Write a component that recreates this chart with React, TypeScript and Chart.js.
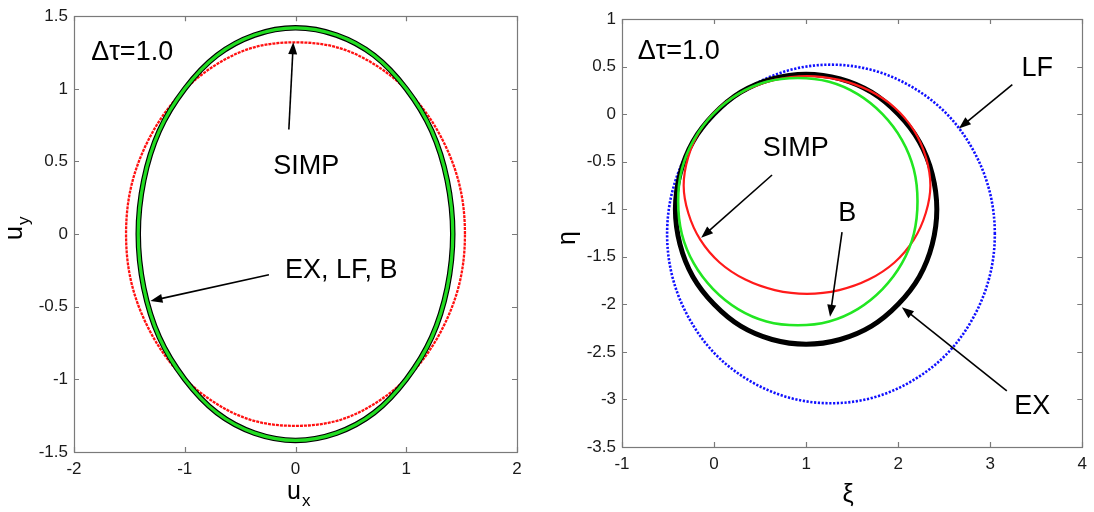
import React, { useEffect, useRef } from "react";
import { Chart, registerables } from "chart.js";

Chart.register(...registerables);

type P = [number, number];

// ---------- tick values ----------
const leftXTicks = [-2, -1, 0, 1, 2];
const leftYTicks = [-1.5, -1, -0.5, 0, 0.5, 1, 1.5];
const rightXTicks = [-1, 0, 1, 2, 3, 4];
const rightYTicks = [-3.5, -3, -2.5, -2, -1.5, -1, -0.5, 0, 0.5, 1];

// ---------- left panel (u_x, u_y) : closed curves ----------
const leftEX: P[] = [
  [1.42, 0], [1.37, 0.37], [1.23, 0.71], [1.0, 1.0], [0.71, 1.23], [0.37, 1.37], [0, 1.42],
  [-0.37, 1.37], [-0.71, 1.23], [-1.0, 1.0], [-1.23, 0.71], [-1.37, 0.37], [-1.42, 0],
  [-1.37, -0.37], [-1.23, -0.71], [-1.0, -1.0], [-0.71, -1.23], [-0.37, -1.37], [0, -1.42],
  [0.37, -1.37], [0.71, -1.23], [1.0, -1.0], [1.23, -0.71], [1.37, -0.37],
];
const leftB: P[] = [
  [1.42, 0], [1.37, 0.37], [1.23, 0.71], [1.0, 1.0], [0.71, 1.23], [0.37, 1.37], [0, 1.42],
  [-0.37, 1.37], [-0.71, 1.23], [-1.0, 1.0], [-1.23, 0.71], [-1.37, 0.37], [-1.42, 0],
  [-1.37, -0.37], [-1.23, -0.71], [-1.0, -1.0], [-0.71, -1.23], [-0.37, -1.37], [0, -1.42],
  [0.37, -1.37], [0.71, -1.23], [1.0, -1.0], [1.23, -0.71], [1.37, -0.37],
];
const leftSIMP: P[] = [
  [1.53, 0], [1.48, 0.34], [1.32, 0.66], [1.08, 0.93], [0.77, 1.14], [0.4, 1.28], [0, 1.32],
  [-0.4, 1.28], [-0.77, 1.14], [-1.08, 0.93], [-1.32, 0.66], [-1.48, 0.34], [-1.53, 0],
  [-1.48, -0.34], [-1.32, -0.66], [-1.08, -0.93], [-0.77, -1.14], [-0.4, -1.28], [0, -1.32],
  [0.4, -1.28], [0.77, -1.14], [1.08, -0.93], [1.32, -0.66], [1.48, -0.34],
];

// ---------- right panel (xi, eta) : closed curves ----------
const rightEX: P[] = [
  [2.42, -1.0], [2.37, -0.63], [2.23, -0.29], [2.0, 0.0], [1.71, 0.23], [1.37, 0.37], [1.0, 0.42],
  [0.63, 0.37], [0.29, 0.23], [0.0, 0.0], [-0.23, -0.29], [-0.37, -0.63], [-0.42, -1.0],
  [-0.37, -1.37], [-0.23, -1.71], [0.0, -2.0], [0.29, -2.23], [0.63, -2.37], [1.0, -2.42],
  [1.37, -2.37], [1.71, -2.23], [2.0, -2.0], [2.23, -1.71], [2.37, -1.37],
];
const rightSIMP: P[] = [
  [2.35, -0.75], [2.3, -0.45], [2.17, -0.17], [1.96, 0.07], [1.68, 0.25], [1.36, 0.36], [1.01, 0.4],
  [0.66, 0.36], [0.34, 0.25], [0.06, 0.07], [-0.15, -0.17], [-0.28, -0.45], [-0.33, -0.75],
  [-0.28, -1.04], [-0.15, -1.32], [0.06, -1.56], [0.34, -1.74], [0.66, -1.85], [1.01, -1.89],
  [1.36, -1.85], [1.68, -1.74], [1.96, -1.56], [2.17, -1.32], [2.3, -1.04],
];
const rightB: P[] = [
  [2.21, -0.92], [2.17, -0.58], [2.04, -0.27], [1.83, 0.0], [1.56, 0.21], [1.25, 0.34], [0.91, 0.38],
  [0.57, 0.34], [0.26, 0.21], [-0.01, 0.0], [-0.22, -0.27], [-0.35, -0.58], [-0.39, -0.92],
  [-0.35, -1.26], [-0.22, -1.57], [-0.01, -1.84], [0.26, -2.05], [0.57, -2.18], [0.91, -2.22],
  [1.25, -2.18], [1.56, -2.05], [1.83, -1.84], [2.04, -1.57], [2.17, -1.26],
];
const rightLF: P[] = [
  [3.05, -1.26], [2.99, -0.8], [2.81, -0.37], [2.53, 0.0], [2.16, 0.28], [1.73, 0.46], [1.27, 0.52],
  [0.81, 0.46], [0.38, 0.28], [0.01, 0.0], [-0.27, -0.37], [-0.45, -0.8], [-0.51, -1.26],
  [-0.45, -1.72], [-0.27, -2.15], [0.01, -2.52], [0.38, -2.8], [0.81, -2.98], [1.27, -3.04],
  [1.73, -2.98], [2.16, -2.8], [2.53, -2.52], [2.81, -2.15], [2.99, -1.72],
];

const FONT = '"Liberation Sans", Arial, Helvetica, sans-serif';
const toXY = (pts: P[]) => pts.map(([x, y]) => ({ x, y }));

type Label = { text: string; x: number; y: number; size: number };
type Arrow = { from: P; to: P };
type Title = { main: string; sub?: string; px: number; py: number; rotate: boolean };

function drawArrow(ctx: CanvasRenderingContext2D, x1: number, y1: number, x2: number, y2: number) {
  const a = Math.atan2(y2 - y1, x2 - x1);
  const hl = 12;
  const hw = 4.5;
  ctx.save();
  ctx.strokeStyle = "#000";
  ctx.fillStyle = "#000";
  ctx.lineWidth = 1.6;
  ctx.beginPath();
  ctx.moveTo(x1, y1);
  ctx.lineTo(x2 - Math.cos(a) * hl * 0.8, y2 - Math.sin(a) * hl * 0.8);
  ctx.stroke();
  ctx.beginPath();
  ctx.moveTo(x2, y2);
  ctx.lineTo(x2 - hl * Math.cos(a) + hw * Math.sin(a), y2 - hl * Math.sin(a) - hw * Math.cos(a));
  ctx.lineTo(x2 - hl * Math.cos(a) - hw * Math.sin(a), y2 - hl * Math.sin(a) + hw * Math.cos(a));
  ctx.closePath();
  ctx.fill();
  ctx.restore();
}

// make every dataset line a closed loop (smooth through the join)
const closedLoopPlugin = {
  id: "closedLoop",
  afterDatasetUpdate(_chart: any, args: any) {
    const line = args.meta && args.meta.dataset;
    if (line) {
      line._loop = true;
      line._fullLoop = true;
      delete line._segments;
      delete line._path;
      line._pointsUpdated = false;
    }
  },
};

function makeDecor(xTicks: number[], yTicks: number[], labels: Label[], arrows: Arrow[], titles: Title[]) {
  return {
    id: "decor",
    afterDraw(chart: any) {
      const ctx: CanvasRenderingContext2D = chart.ctx;
      const ca = chart.chartArea;
      const xs = chart.scales.x;
      const ys = chart.scales.y;
      ctx.save();
      // box
      ctx.strokeStyle = "#7a7a7a";
      ctx.lineWidth = 1.2;
      ctx.strokeRect(Math.round(ca.left) + 0.5, Math.round(ca.top) + 0.5, Math.round(ca.right - ca.left), Math.round(ca.bottom - ca.top));
      // inward ticks
      ctx.beginPath();
      const tl = 5;
      for (const v of xTicks) {
        const px = Math.round(xs.getPixelForValue(v)) + 0.5;
        ctx.moveTo(px, ca.bottom);
        ctx.lineTo(px, ca.bottom - tl);
        ctx.moveTo(px, ca.top);
        ctx.lineTo(px, ca.top + tl);
      }
      for (const v of yTicks) {
        const py = Math.round(ys.getPixelForValue(v)) + 0.5;
        ctx.moveTo(ca.left, py);
        ctx.lineTo(ca.left + tl, py);
        ctx.moveTo(ca.right, py);
        ctx.lineTo(ca.right - tl, py);
      }
      ctx.stroke();
      // arrows
      for (const ar of arrows) {
        drawArrow(
          ctx,
          xs.getPixelForValue(ar.from[0]),
          ys.getPixelForValue(ar.from[1]),
          xs.getPixelForValue(ar.to[0]),
          ys.getPixelForValue(ar.to[1])
        );
      }
      // labels
      ctx.fillStyle = "#000";
      ctx.textAlign = "left";
      ctx.textBaseline = "alphabetic";
      for (const lb of labels) {
        ctx.font = `${lb.size}px ${FONT}`;
        ctx.fillText(lb.text, xs.getPixelForValue(lb.x), ys.getPixelForValue(lb.y));
      }
      // axis titles
      for (const t of titles) {
        ctx.save();
        ctx.translate(t.px, t.py);
        if (t.rotate) ctx.rotate(-Math.PI / 2);
        ctx.font = `25px ${FONT}`;
        ctx.textAlign = t.sub ? "left" : "center";
        ctx.fillText(t.main, 0, 0);
        if (t.sub) {
          const w = ctx.measureText(t.main).width;
          ctx.font = `17px ${FONT}`;
          ctx.fillText(t.sub, w + 1, 7);
        }
        ctx.restore();
      }
      ctx.restore();
    },
  };
}

type PanelProps = {
  left: number;
  width: number;
  datasets: any[];
  xMin: number;
  xMax: number;
  yMin: number;
  yMax: number;
  xStep: number;
  yStep: number;
  xTicks: number[];
  yTicks: number[];
  padding: { left: number; top: number; right: number; bottom: number };
  yAxisWidth: number;
  xAxisHeight: number;
  labels: Label[];
  arrows: Arrow[];
  titles: Title[];
};

function Panel(p: PanelProps) {
  const ref = useRef<HTMLCanvasElement>(null);
  useEffect(() => {
    const tickFont = { family: FONT, size: 17 };
    const chart = new Chart(ref.current as HTMLCanvasElement, {
      type: "scatter",
      data: { datasets: p.datasets },
      options: {
        responsive: false,
        animation: false,
        events: [],
        layout: { padding: p.padding },
        plugins: { legend: { display: false }, tooltip: { enabled: false } },
        scales: {
          x: {
            type: "linear",
            min: p.xMin,
            max: p.xMax,
            grid: { display: false, drawTicks: false },
            border: { display: false },
            ticks: {
              stepSize: p.xStep,
              padding: 7,
              color: "#1a1a1a",
              font: tickFont,
              maxRotation: 0,
              autoSkip: false,
              callback: (v: any) => String(v),
            },
            afterFit: (s: any) => {
              s.height = p.xAxisHeight;
            },
          },
          y: {
            type: "linear",
            min: p.yMin,
            max: p.yMax,
            grid: { display: false, drawTicks: false },
            border: { display: false },
            ticks: {
              stepSize: p.yStep,
              padding: 6,
              color: "#1a1a1a",
              font: tickFont,
              autoSkip: false,
              callback: (v: any) => String(v),
            },
            afterFit: (s: any) => {
              s.width = p.yAxisWidth;
            },
          },
        },
      },
      plugins: [closedLoopPlugin, makeDecor(p.xTicks, p.yTicks, p.labels, p.arrows, p.titles)],
    } as any);
    return () => chart.destroy();
  }, []);
  return (
    <div style={{ position: "absolute", left: p.left, top: 0, width: p.width, height: 512 }}>
      <canvas ref={ref} width={p.width} height={512} style={{ display: "block" }} />
    </div>
  );
}

const line = (data: P[], color: string, width: number, order: number, dash?: number[]) => ({
  data: toXY(data),
  showLine: true,
  borderColor: color,
  borderWidth: width,
  borderDash: dash || [],
  pointRadius: 0,
  tension: 0.34,
  fill: false,
  order,
});

export default function App() {
  const leftSets = [
    line(leftSIMP, "#ff1010", 2.3, 3, [3, 1]),
    line(leftEX, "#000000", 5.5, 2),
    line(leftB, "#22dd22", 3.2, 1),
  ];
  const rightSets = [
    line(rightLF, "#1010ff", 2.6, 4, [2.2, 1.6]),
    line(rightEX, "#000000", 5, 3),
    line(rightSIMP, "#ff1a1a", 2.2, 2),
    line(rightB, "#22e622", 2.6, 1),
  ];
  return (
    <div style={{ position: "absolute", left: 0, top: 0, width: 1094, height: 512, background: "#fff" }}>
      <Panel
        left={0}
        width={547}
        datasets={leftSets}
        xMin={-2}
        xMax={2}
        yMin={-1.5}
        yMax={1.5}
        xStep={1}
        yStep={0.5}
        xTicks={leftXTicks}
        yTicks={leftYTicks}
        padding={{ left: 0, top: 15, right: 30, bottom: 0 }}
        yAxisWidth={74}
        xAxisHeight={60}
        labels={[
          { text: "\u0394\u03c4=1.0", x: -1.845, y: 1.198, size: 27 },
          { text: "SIMP", x: -0.2, y: 0.415, size: 27 },
          { text: "EX, LF, B", x: -0.095, y: -0.305, size: 27 },
        ]}
        arrows={[
          { from: [-0.06, 0.72], to: [-0.02, 1.32] },
          { from: [-0.24, -0.28], to: [-1.31, -0.46] },
        ]}
        titles={[
          { main: "u", sub: "y", px: 22, py: 240, rotate: true },
          { main: "u", sub: "x", px: 287, py: 499, rotate: false },
        ]}
      />
      <Panel
        left={547}
        width={547}
        datasets={rightSets}
        xMin={-1}
        xMax={4}
        yMin={-3.5}
        yMax={1}
        xStep={1}
        yStep={0.5}
        xTicks={rightXTicks}
        yTicks={rightYTicks}
        padding={{ left: 0, top: 19, right: 8, bottom: 0 }}
        yAxisWidth={75}
        xAxisHeight={65}
        labels={[
          { text: "\u0394\u03c4=1.0", x: -0.83, y: 0.58, size: 27 },
          { text: "LF", x: 3.34, y: 0.405, size: 27 },
          { text: "SIMP", x: 0.53, y: -0.44, size: 27 },
          { text: "B", x: 1.35, y: -1.12, size: 27 },
          { text: "EX", x: 3.26, y: -3.15, size: 27 },
        ]}
        arrows={[
          { from: [3.24, 0.31], to: [2.66, -0.15] },
          { from: [0.63, -0.64], to: [-0.14, -1.3] },
          { from: [1.39, -1.24], to: [1.26, -2.13] },
          { from: [3.18, -2.91], to: [2.04, -2.03] },
        ]}
        titles={[
          { main: "\u03b7", px: 28, py: 238, rotate: true },
          { main: "\u03be", px: 301, py: 502, rotate: false },
        ]}
      />
    </div>
  );
}
